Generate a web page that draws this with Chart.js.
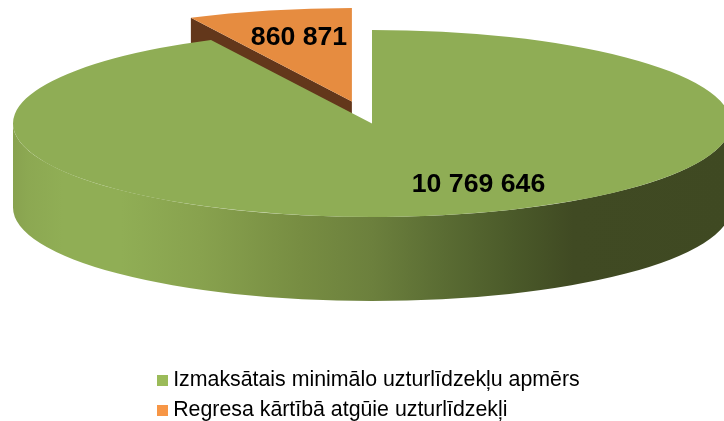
<!DOCTYPE html>
<html>
<head>
<meta charset="utf-8">
<style>html,body{margin:0;padding:0;background:#fff}#wrap{width:724px;height:421px;position:relative;overflow:hidden}</style>
<script src="https://cdn.jsdelivr.net/npm/chart.js@4/dist/chart.umd.js"></script>
</head>
<body>
<div id="wrap"><canvas id="c" width="724" height="421"></canvas></div>
<script>
const categories = ['Izmaksātais minimālo uzturlīdzekļu apmērs', 'Regresa kārtībā atgūie uzturlīdzekļi'];
const values = [10769646, 860871];
const topColors = ['#8FAD55', '#E68C40'];
const legendColors = ['#9BBB59', '#F79646'];

// pie projection (3D look)
const cx = 372, cy = 123.5, rx = 359, ry = 93.5, depth = 84, baseR = 100, explode = 0.243;
const fmt = v => String(v).replace(/\B(?=(\d{3})+$)/g, ' ');

function swatch(color) {
  const s = document.createElement('canvas');
  s.width = 11; s.height = 11;
  const g = s.getContext('2d');
  g.fillStyle = color; g.fillRect(0, 0, 11, 11);
  return s;
}

const pie3d = {
  id: 'pie3d',
  beforeDatasetsDraw(chart) {
    const ctx = chart.ctx;
    const arcs = chart.getDatasetMeta(0).data;
    const R = arcs[0].outerRadius;
    const sx = rx / R, sy = ry / R;
    const o = arcs[1];
    const T = explode * R;
    const mid = (o.startAngle + o.endAngle) / 2;
    // pull the last slice out of the pie along its bisector
    if (!o.pulled) {
      const draw = o.draw;
      o.draw = function (c) {
        c.save();
        c.translate(T * Math.cos(mid), T * Math.sin(mid));
        draw.call(o, c);
        c.restore();
      };
      o.pulled = true;
    }
    // cut face of the exploded slice
    const ax = cx + sx * T * Math.cos(mid), ay = cy + sy * T * Math.sin(mid);
    const bx = ax + sx * R * Math.cos(o.startAngle), by = ay + sy * R * Math.sin(o.startAngle);
    ctx.save();
    ctx.fillStyle = '#63371B';
    ctx.beginPath();
    ctx.moveTo(ax, ay); ctx.lineTo(bx, by); ctx.lineTo(bx, by + depth); ctx.lineTo(ax, ay + depth);
    ctx.closePath(); ctx.fill();
    // outer wall
    const g = ctx.createLinearGradient(cx - rx, 0, cx + rx, 0);
    const stops = [[0, '#88A24F'], [0.02, '#8CA852'], [0.07, '#90AE55'], [0.15, '#90AE55'], [0.26, '#88A24E'],
      [0.4, '#778D42'], [0.5, '#6C803D'], [0.6, '#5A6C33'], [0.7, '#4A5929'], [0.78, '#404A23'], [1, '#3F4922']];
    stops.forEach(s => g.addColorStop(s[0], s[1]));
    ctx.fillStyle = g;
    ctx.beginPath();
    ctx.ellipse(cx, cy, rx, ry, 0, Math.PI, 0, true);
    ctx.ellipse(cx, cy + depth, rx, ry, 0, 0, Math.PI, false);
    ctx.closePath(); ctx.fill();
    ctx.restore();
    // projected top face
    ctx.save();
    ctx.translate(cx, cy);
    ctx.scale(sx, sy);
    ctx.translate(-arcs[0].x, -arcs[0].y);
  },
  afterDatasetsDraw(chart) {
    const ctx = chart.ctx;
    ctx.restore();
    ctx.save();
    ctx.font = 'bold 26.67px "Liberation Sans", Arial, sans-serif';
    ctx.fillStyle = '#000';
    ctx.textAlign = 'center';
    ctx.textBaseline = 'middle';
    ctx.fillText(fmt(values[0]), cx + 106.5, cy + 61.5);
    ctx.fillText(fmt(values[1]), cx - 73, cy - 85.5);
    ctx.restore();
  }
};

new Chart(document.getElementById('c'), {
  type: 'pie',
  plugins: [pie3d],
  data: {
    labels: categories,
    datasets: [{
      data: values,
      backgroundColor: topColors,
      borderWidth: 0,
      clip: false
    }]
  },
  options: {
    responsive: false,
    animation: false,
    radius: baseR,
    layout: { padding: { left: 153.83, right: 0, top: 0, bottom: -9.87 } },
    plugins: {
      tooltip: { enabled: false },
      legend: {
        position: 'bottom',
        align: 'start',
        labels: {
          font: { family: '"Liberation Sans", Arial, sans-serif', size: 21.33 },
          color: '#000',
          padding: 8.67,
          usePointStyle: true,
          pointStyleWidth: 0.01,
          boxHeight: 11,
          generateLabels: chart => categories.map((t, i) => ({
            text: t, fillStyle: legendColors[i], strokeStyle: legendColors[i], lineWidth: 0,
            pointStyle: swatch(legendColors[i]), hidden: false, index: i
          }))
        }
      }
    }
  }
});
</script>
</body>
</html>
